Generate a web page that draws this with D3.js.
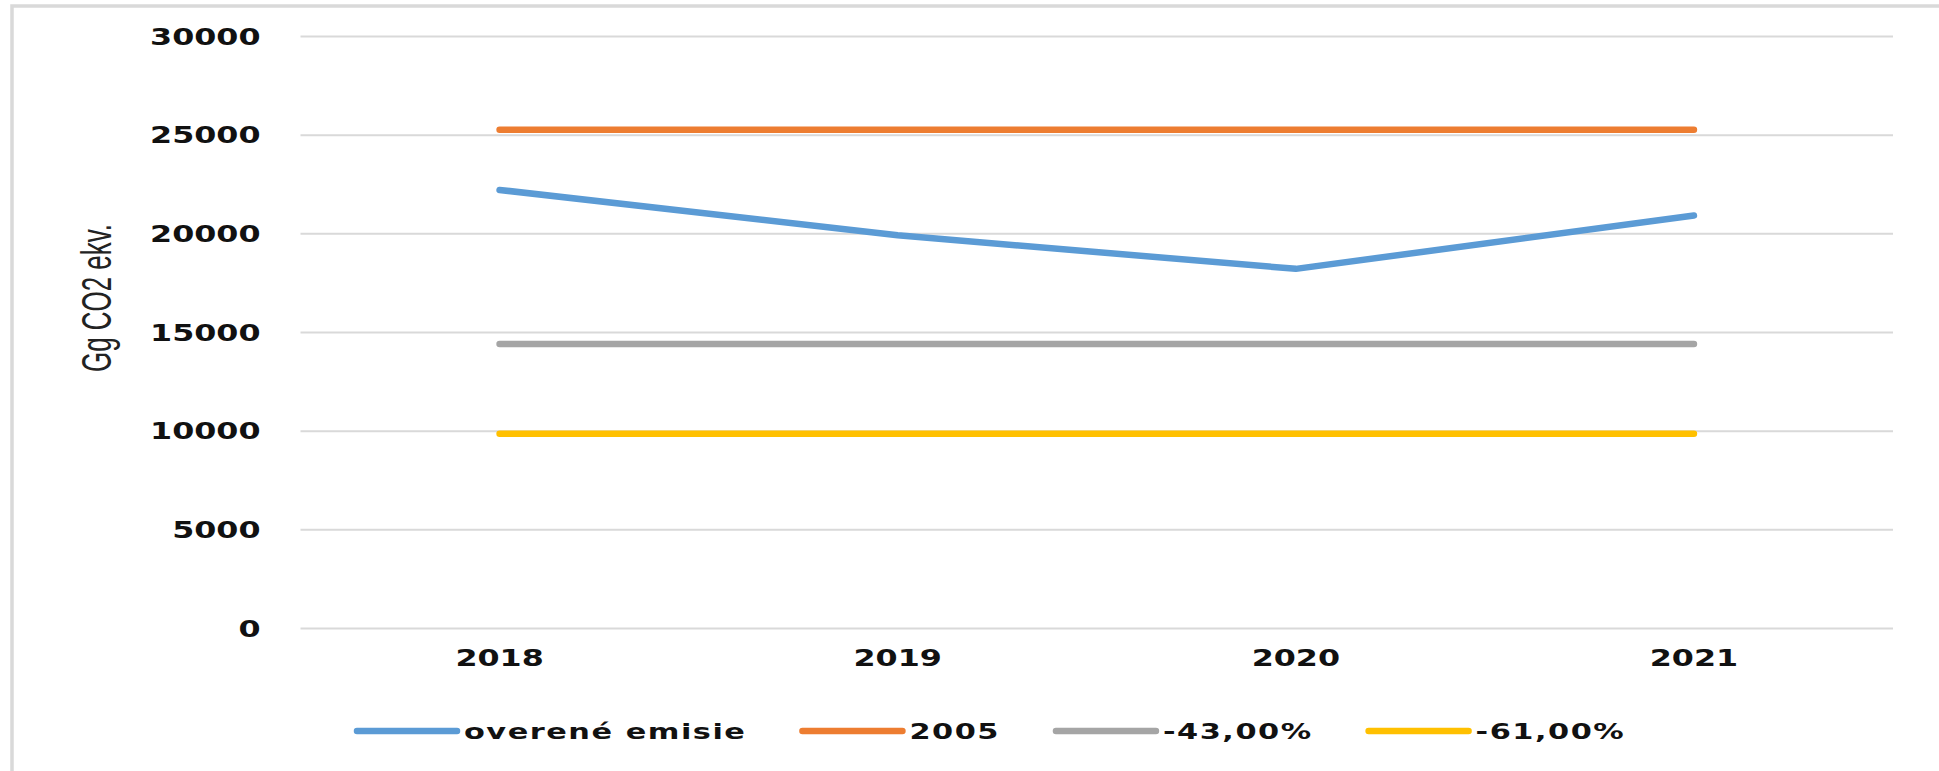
<!DOCTYPE html>
<html>
<head>
<meta charset="utf-8">
<script src="https://cdn.jsdelivr.net/npm/d3@7"></script>
<style>
  body { margin: 0; background: #fff; }
  svg { display: block; }
</style>
</head>
<body>
<div id="chart"></div>
<script>
// data
const years = ['2018', '2019', '2020', '2021'];
const overene = [22200, 19900, 18200, 20900];
const ref2005 = [25250, 25250, 25250, 25250];
const minus43 = [14390, 14390, 14390, 14390];
const minus61 = [9850, 9850, 9850, 9850];
const seriesNames = ['overené emisie', '2005', '-43,00%', '-61,00%'];
const yTicks = [0, 5000, 10000, 15000, 20000, 25000, 30000];

const colors = ['#5B9BD5', '#ED7D31', '#A5A5A5', '#FFC000'];
const seriesValues = [overene, ref2005, minus43, minus61];

const W = 1939, H = 771;
const plotLeft = 300.5, plotRight = 1893, plotTop = 36, plotBottom = 628;
const stretch = 1.38; // text in the source is widened horizontally

const svg = d3.select('#chart').append('svg')
    .attr('width', W)
    .attr('height', H);

// frame of the chart area
svg.append('rect')
    .attr('x', 12).attr('y', 6)
    .attr('width', W + 20).attr('height', H + 20)
    .attr('fill', '#fff')
    .attr('stroke', '#d9d9d9')
    .attr('stroke-width', 3.5);

const x = d3.scaleBand().domain(years).range([plotLeft, plotRight]);
const y = d3.scaleLinear().domain([0, 30000]).range([plotBottom, plotTop]);

// y axis with gridlines
const yAxis = svg.append('g')
    .attr('transform', `translate(${plotLeft},0)`)
    .call(d3.axisLeft(y).tickValues(yTicks).tickSize(-(plotRight - plotLeft)).tickFormat(d3.format('d')));
yAxis.select('.domain').remove();
yAxis.selectAll('.tick line')
    .attr('stroke', '#d9d9d9')
    .attr('stroke-width', 2);
yAxis.selectAll('.tick text')
    .attr('x', null)
    .attr('dy', '0.36em')
    .attr('transform', `translate(-40,0) scale(${stretch},1)`)
    .attr('text-anchor', 'end')
    .style('font-family', '"DejaVu Sans", Verdana, sans-serif')
    .style('font-weight', 'bold')
    .style('font-size', '23px')
    .style('fill', '#111');

// x axis labels
const xAxis = svg.append('g')
    .attr('transform', `translate(0,${plotBottom})`)
    .call(d3.axisBottom(x).tickSize(0));
xAxis.select('.domain').remove();
xAxis.selectAll('.tick text')
    .attr('y', null)
    .attr('dy', '0.36em')
    .attr('transform', `translate(0,30) scale(${stretch},1)`)
    .style('font-family', '"DejaVu Sans", Verdana, sans-serif')
    .style('font-weight', 'bold')
    .style('font-size', '23px')
    .style('fill', '#111');

// y axis title
svg.append('text')
    .attr('transform', `translate(96,298) scale(1.6,1) rotate(-90)`)
    .attr('text-anchor', 'middle')
    .attr('dy', '0.35em')
    .attr('textLength', 148)
    .attr('lengthAdjust', 'spacingAndGlyphs')
    .style('font-family', '"Liberation Sans Narrow", "Liberation Sans", Arial, sans-serif')
    .style('font-size', '26px')
    .style('fill', '#222')
    .text('Gg CO2 ekv.');

// series lines
const line = d3.line()
    .x((d, i) => x(years[i]) + x.bandwidth() / 2)
    .y(d => y(d));

svg.selectAll('.series')
    .data(seriesValues)
    .enter()
    .append('path')
    .attr('class', 'series')
    .attr('d', line)
    .attr('fill', 'none')
    .attr('stroke', (d, i) => colors[i])
    .attr('stroke-width', 6.5)
    .attr('stroke-linecap', 'round')
    .attr('stroke-linejoin', 'round');

// legend
const legend = svg.append('g').attr('transform', 'translate(357,731)');
let lx = 0;
seriesNames.forEach((name, i) => {
    const g = legend.append('g').attr('transform', `translate(${lx},0)`);
    g.append('line')
        .attr('x1', 0).attr('x2', 100)
        .attr('stroke', colors[i])
        .attr('stroke-width', 6.5)
        .attr('stroke-linecap', 'round');
    const t = g.append('text')
        .attr('dy', '0.36em')
        .attr('transform', `translate(107,0) scale(${stretch},1)`)
        .style('font-family', '"DejaVu Sans", Verdana, sans-serif')
        .style('font-weight', 'bold')
        .style('font-size', '22px')
        .style('letter-spacing', '1.1px')
        .style('fill', '#111')
        .text(name);
    lx += 107 + t.node().getComputedTextLength() * stretch + 56;
});
</script>
</body>
</html>
